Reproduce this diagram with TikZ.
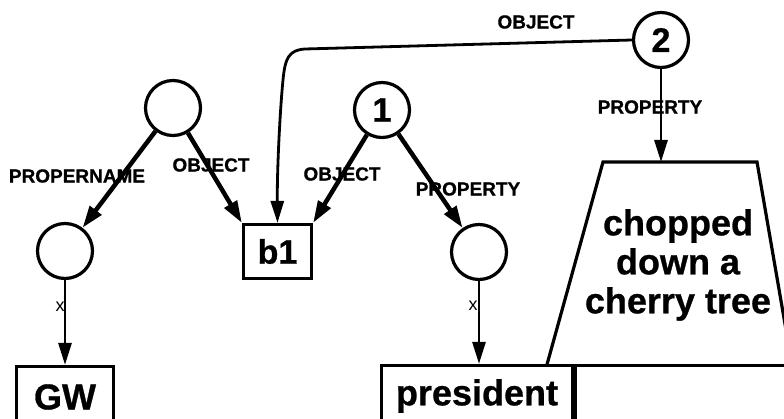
\documentclass[tikz,border=0pt]{standalone}
\usepackage{fontspec}
\setmainfont{Liberation Sans}[BoldFeatures={FakeBold=0.8}]
\usetikzlibrary{arrows.meta}
\begin{document}
\begin{tikzpicture}[x=1pt,y=-1pt,
  circ/.style={draw, circle, line width=3.2pt, minimum size=55pt, inner sep=0pt,
    font=\fontsize{34}{36}\selectfont\bfseries},
  box/.style={draw, line width=3.2pt, inner sep=0pt,
    font=\fontsize{36}{38}\selectfont\bfseries},
  lbl/.style={inner sep=0pt, font=\fontsize{19}{20}\selectfont\bfseries},
  xmark/.style={inner sep=0pt, font=\fontsize{18}{18}\selectfont},
  bigtext/.style={inner sep=0pt, align=center,
    font=\fontsize{36}{39}\selectfont\bfseries},
  thickarrow/.style={line width=4.5pt, -{Triangle[length=22pt,width=14pt]}},
  thinarrow/.style={line width=2.8pt, -{Triangle[length=22pt,width=13pt]}},
  edge/.style={line width=3.2pt, line join=miter}
]
\useasboundingbox (0,0) rectangle (784,419);
\clip (0,0) rectangle (784,419);

% circles
\node[circ] (A) at (173,108) {};
\node[circ] (one) at (382,110) {1};
\node[circ] (two) at (661,40) {2};
\node[circ] (B) at (65,251) {};
\node[circ] (C) at (479,252) {};

% boxes
\node[box, minimum width=68pt, minimum height=54pt, font=\fontsize{34}{36}\selectfont\bfseries] (b1) at (277.5,251.5) {b1};
\node[box, minimum width=97pt, minimum height=61pt] (gw) at (65,397) {GW};
\node[box, minimum width=191pt, minimum height=61pt] (pres) at (477,396) {president};
\node[draw, line width=3.2pt, anchor=north west, minimum width=240pt, minimum height=80pt, inner sep=0pt] (rbox) at (pres.north east) {};

% trapezoid
\coordinate (tl) at (603,162);
\coordinate (tr) at (757,162);
\coordinate (traptop) at (661,162);
\draw[edge] (547,364.5) -- (tl) -- (tr) -- (792,364.5);
\node[bigtext] (chop) at (678,265) {chopped\\down a\\cherry tree};

% arrows
\draw[thickarrow] (A) -- (B);
\draw[thickarrow] (A) -- (b1.north west);
\draw[thickarrow] (one) -- (b1.north east);
\draw[thickarrow] (one) -- (C);
\draw[thinarrow] (B) -- (gw.north);
\draw[thinarrow] (C) -- (C |- pres.north);
\draw[thinarrow] (two) -- (traptop);
\draw[thinarrow] (two.west) -- (305,49) .. controls (289,50) and (285,58) .. (283,80)
  .. controls (280,110) and (277,170) .. (b1.north);

% labels
\node[lbl] (lpn) at (77,176) {PROPERNAME};
\node[lbl] (lobj1) at (211,165) {OBJECT};
\node[lbl] (lobj2) at (342,174) {OBJECT};
\node[lbl] (lprop1) at (468,189) {PROPERTY};
\node[lbl] (lprop2) at (650,107) {PROPERTY};
\node[lbl] (lobj3) at (536,22) {OBJECT};
\node[xmark] (x1) at (60,307) {x};
\node[xmark] (x2) at (473,306) {x};
\end{tikzpicture}
\end{document}
